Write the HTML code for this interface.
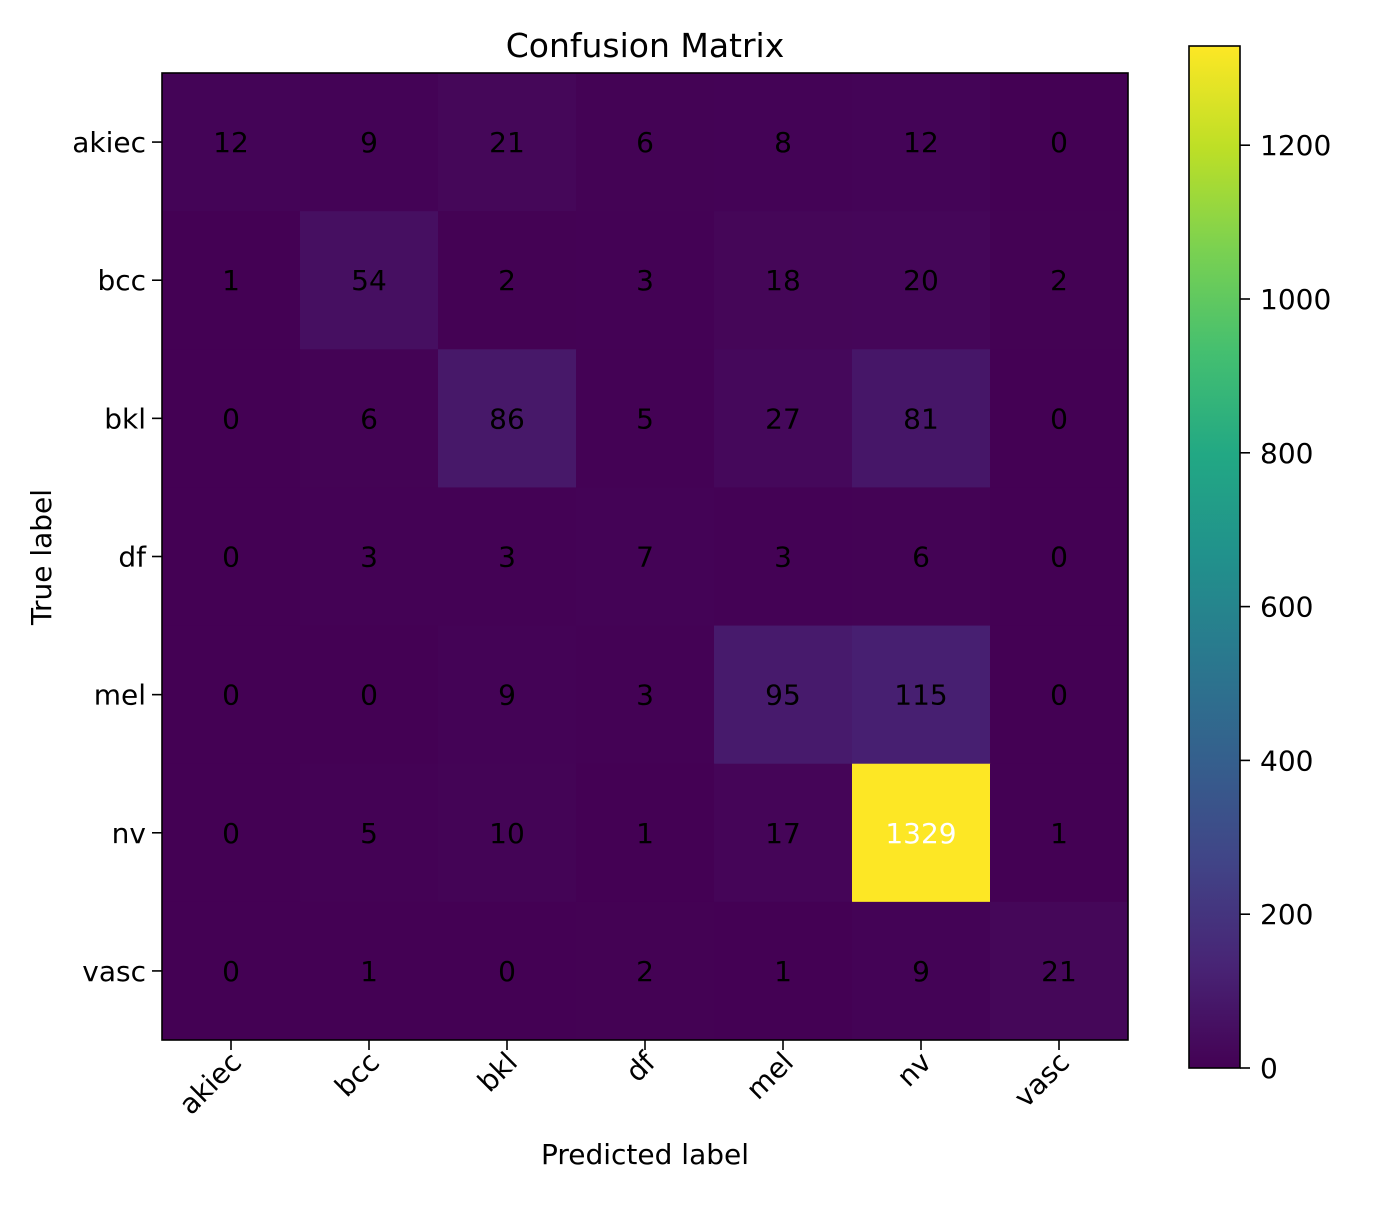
<!DOCTYPE html>
<html><head><meta charset="utf-8"><style>
html,body{margin:0;padding:0;background:#fff;}
svg text{font-family:"DejaVu Sans","Liberation Sans",sans-serif;}
</style></head><body>
<svg id="chart" width="1400" height="1200" xmlns="http://www.w3.org/2000/svg">
<defs>
<linearGradient id="vir" x1="0" y1="1" x2="0" y2="0">
<stop offset="0" stop-color="#440154"/><stop offset="0.1" stop-color="#482475"/><stop offset="0.2" stop-color="#414487"/><stop offset="0.3" stop-color="#355f8d"/><stop offset="0.4" stop-color="#2a788e"/><stop offset="0.5" stop-color="#21918c"/><stop offset="0.6" stop-color="#22a884"/><stop offset="0.7" stop-color="#44bf70"/><stop offset="0.8" stop-color="#7ad151"/><stop offset="0.9" stop-color="#bddf26"/><stop offset="1" stop-color="#fde725"/>
</linearGradient>
</defs>
<text x="645" y="57" font-size="33" text-anchor="middle">Confusion Matrix</text>
<text x="645" y="1164" font-size="28" text-anchor="middle">Predicted label</text>
<text transform="translate(51,557) rotate(-90)" font-size="28" text-anchor="middle">True label</text>
<g id="cells"></g>
<g id="axes"></g>
<g id="cbar"></g>
</svg>
<script>
const labels = ["akiec","bcc","bkl","df","mel","nv","vasc"];
const row0 = [12,9,21,6,8,12,0];
const row1 = [1,54,2,3,18,20,2];
const row2 = [0,6,86,5,27,81,0];
const row3 = [0,3,3,7,3,6,0];
const row4 = [0,0,9,3,95,115,0];
const row5 = [0,5,10,1,17,1329,1];
const row6 = [0,1,0,2,1,9,21];
const cbTicks = [0,200,400,600,800,1000,1200];
const matrix = [row0,row1,row2,row3,row4,row5,row6];

const NS="http://www.w3.org/2000/svg";
const X0=162,Y0=73,W=966,H=967;
const n=labels.length, cw=W/n, ch=H/n;
const vmax=Math.max(...matrix.flat());
const stops=["#440154","#482475","#414487","#355f8d","#2a788e","#21918c","#22a884","#44bf70","#7ad151","#bddf26","#fde725"];
function hex(h){return [1,3,5].map(i=>parseInt(h.substr(i,2),16));}
function viridis(t){t=Math.max(0,Math.min(1,t));const p=t*10,i=Math.min(9,Math.floor(p)),f=p-i;const a=hex(stops[i]),b=hex(stops[i+1]);return "rgb("+a.map((v,k)=>Math.round(v+(b[k]-v)*f)).join(",")+")";}
function xs(i){return X0+cw*i;}
function ys(j){return Y0+ch*j;}
function el(tag,attrs,parent){const e=document.createElementNS(NS,tag);for(const k in attrs)e.setAttribute(k,attrs[k]);parent.appendChild(e);return e;}
const cells=document.getElementById("cells"),axes=document.getElementById("axes"),cbar=document.getElementById("cbar");
matrix.forEach((row,j)=>row.forEach((v,i)=>{
 const r=el("rect",{x:xs(i),y:ys(j),width:cw+0.5,height:ch+0.5,fill:viridis(v/vmax)},cells);
 
 
 const t=el("text",{x:xs(i)+cw/2,y:ys(j)+ch/2+10,"font-size":28,"text-anchor":"middle",fill:v>vmax/2?"#fff":"#000"},cells);
 t.textContent=v;
 
 
}));
const fr=el("rect",{x:X0,y:Y0,width:W,height:H,fill:"none",stroke:"#000","stroke-width":1.6},axes);


labels.forEach((lb,i)=>{
 const cx=xs(i)+cw/2, cy=ys(i)+ch/2;
 el("line",{x1:cx,y1:Y0+H,x2:cx,y2:Y0+H+10,stroke:"#000","stroke-width":1.6},axes);
 const tx=el("text",{transform:`translate(${cx+12},${Y0+H+24}) rotate(-45)`,"font-size":28,"text-anchor":"end"},axes);
 tx.textContent=lb;
 
 
 el("line",{x1:X0,y1:cy,x2:X0-10,y2:cy,stroke:"#000","stroke-width":1.6},axes);
 const ty=el("text",{x:X0-16,y:cy+10,"font-size":28,"text-anchor":"end"},axes);
 ty.textContent=lb;
 
 
});
const CX=1189,CW=51,CT=46,CB=1068;
const cr=el("rect",{x:CX,y:CT,width:CW,height:CB-CT,fill:"url(#vir)",stroke:"#000","stroke-width":1.6},cbar);


function cy(v){return CB-(v/vmax)*(CB-CT);}
cbTicks.forEach(v=>{
 el("line",{x1:CX+CW,y1:cy(v),x2:CX+CW+10,y2:cy(v),stroke:"#000","stroke-width":1.6},cbar);
 const t=el("text",{x:CX+CW+20,y:cy(v)+10,"font-size":28},cbar);
 t.textContent=v;
 
 
});
</script>
</body></html>
